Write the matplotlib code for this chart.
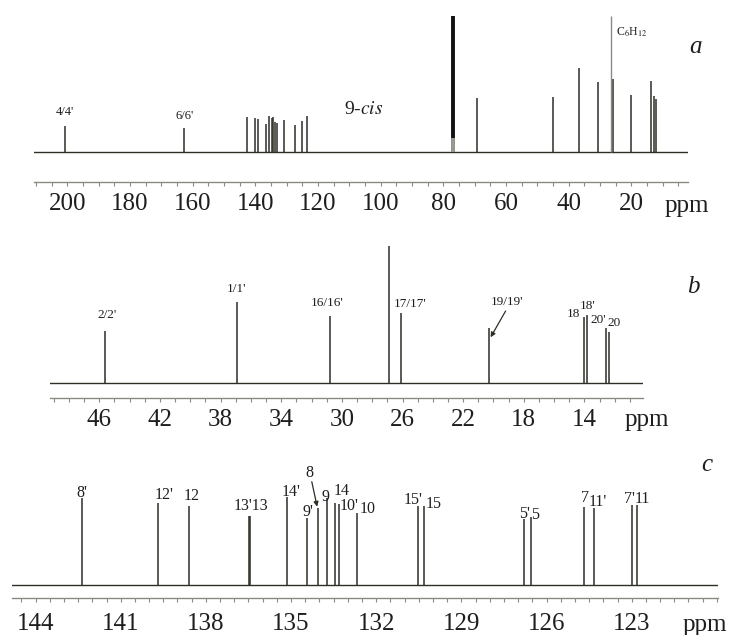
import matplotlib
matplotlib.use("Agg")
import matplotlib.pyplot as plt
from matplotlib.ticker import MultipleLocator

plt.rcParams['font.family'] = ['Liberation Serif', 'DejaVu Serif']
plt.rcParams['mathtext.fontset'] = 'stix'

LINE = '#2e2e26'
AXIS = '#8a8a80'
TEXT = '#1e1e1e'

# Panel a: full 13C spectrum (ppm, relative height)
a_shift = [200.7, 162.8, 142.7, 140.1, 139.1, 136.6, 135.6, 134.7, 134.4,
           133.7, 133.1, 130.8, 127.3, 125.1, 123.5, 69.1, 45.1, 36.7, 30.5,
           25.9, 20.1, 13.8, 12.6, 12.2]
a_height = [26, 24, 35, 34, 33, 28, 36, 34, 35, 30, 29, 32, 27, 31, 36,
            54, 55, 84, 70, 73, 57, 71, 56, 53]
a_cdcl3_shift = 76.9
a_cdcl3_height = 136
a_c6h12_shift = 26.6
a_c6h12_height = 136
a_labels = ["4/4'", "6/6'"]
a_ticks = [200, 180, 160, 140, 120, 100, 80, 60, 40, 20]

# Panel b: aliphatic region
b_shift = [45.6, 36.9, 30.8, 26.9, 26.1, 20.3, 14.03, 13.85, 12.6, 12.4]
b_height = [52, 81, 67, 137, 70, 55, 66, 68, 55, 51]
b_labels = ["2/2'", "1/1'", "16/16'", "17/17'", "19/19'", "18", "18'", "20'", "20"]
b_ticks = [46, 42, 38, 34, 30, 26, 22, 18, 14]

# Panel c: olefinic region
c_shift = [142.38, 139.70, 138.60, 136.49, 136.44, 135.13, 134.43, 134.04,
           133.72, 133.45, 133.31, 132.69, 130.52, 130.32, 126.79, 126.56,
           124.67, 124.32, 123.00, 122.82]
c_height = [87, 82, 79, 69, 69, 88, 67, 77, 87, 82, 81, 72, 79, 79, 66, 68,
            78, 77, 80, 80]
c_labels = ["8'", "12'", "12", "13'13", "14'", "9'", "8", "9", "14", "10'",
            "10", "15'", "15", "5'", "5", "7", "11'", "7'", "11"]
c_ticks = [144, 141, 138, 135, 132, 129, 126, 123]

W, H = 735, 635
fig = plt.figure(figsize=(W / 100, H / 100), dpi=100)


def px_rect(x0, x1, ytop, ybot):
    return [x0 / W, 1 - ybot / H, (x1 - x0) / W, (ybot - ytop) / H]


def draw_panel(rect, xlim, ylim, ticks, minor, pad):
    ax = fig.add_axes(rect)
    ax.axhline(0, color=LINE, lw=1.0, zorder=1)
    ax.set_xlim(xlim)
    ax.set_ylim(ylim)
    for side in ['top', 'left', 'right']:
        ax.spines[side].set_visible(False)
    ax.spines['bottom'].set_color(AXIS)
    ax.spines['bottom'].set_linewidth(1.0)
    ax.set_yticks([])
    ax.set_xticks(ticks)
    ax.set_xticklabels([str(t) for t in ticks])
    ax.xaxis.set_minor_locator(MultipleLocator(minor))
    ax.tick_params(axis='x', which='both', direction='out', length=3,
                   width=0.8, color=AXIS)
    ax.tick_params(axis='x', which='major', labelsize=18, labelcolor=TEXT, pad=pad)
    ax.patch.set_alpha(0)
    return ax


# ---- panel a
ax_a = draw_panel(px_rect(34, 688, 10, 182), (210.6, 1.9), (-30, 142), a_ticks, 5, 5)
ax_a.vlines(a_shift, 0, a_height, color=LINE, lw=1.1)
ax_a.vlines(a_cdcl3_shift, 0, a_cdcl3_height, color='#111111', lw=2.8)
ax_a.vlines(a_cdcl3_shift, 0, 14, color='#9a9a90', lw=2.8)
ax_a.vlines(a_c6h12_shift, 0, a_c6h12_height, color='#8a8a84', lw=1.0)

a_label_pos = [(200.7, 40.3), (162.4, 36)]
for txt, (x, y) in zip(a_labels, a_label_pos):
    ax_a.text(x, y, txt, ha='center', va='center', fontsize=9, color=TEXT)
ax_a.text(105.3, 42, r"9-$\mathit{cis}$", ha='center', va='center',
          fontsize=14, color=TEXT)
ax_a.text(24.9, 119.3, r"C$_6$H$_{12}$", ha='left', va='center',
          fontsize=8.5, color=TEXT)

# ---- panel b
ax_b = draw_panel(px_rect(50, 643, 240, 398), (49.25, 10.14), (-14.7, 143.3), b_ticks, 1, 5)
ax_b.vlines(b_shift, 0, b_height, color=LINE, lw=1.1)

b_label_pos = [(45.5, 68.3), (36.94, 94), (31.0, 80.6), (25.5, 79.3),
               (19.13, 81.6), (14.74, 69.3), (13.81, 77.3), (13.09, 63.3),
               (12.05, 60.6)]
for txt, (x, y) in zip(b_labels, b_label_pos):
    ax_b.text(x, y, txt, ha='center', va='center', fontsize=9.5, color=TEXT)
ax_b.annotate('', xy=(20.19, 46), xytext=(19.2, 72.3),
              arrowprops=dict(arrowstyle='-|>', color=LINE, lw=0.9,
                              mutation_scale=7, shrinkA=0, shrinkB=0))

# ---- panel c
ax_c = draw_panel(px_rect(12, 718, 460, 598), (144.83, 119.96), (-13.5, 124.5), c_ticks, 0.5, 8)
ax_c.vlines(c_shift, 0, c_height, color=LINE, lw=1.1)

c_label_pos = [(142.38, 91.8), (139.48, 89.5), (138.50, 88.8), (136.42, 78.5),
               (135.0, 92.8), (134.39, 72.8), (134.36, 111.2), (133.77, 87.5),
               (133.22, 93.5), (132.95, 78.0), (132.31, 75.5), (130.69, 84.5),
               (129.96, 80.5), (126.76, 70.5), (126.40, 69.5), (124.64, 86.2),
               (124.18, 82.8), (123.08, 85.5), (122.61, 85.5)]
for txt, (x, y) in zip(c_labels, c_label_pos):
    ax_c.text(x, y, txt, ha='center', va='center', fontsize=11.5, color=TEXT)
ax_c.annotate('', xy=(134.08, 77.8), xytext=(134.27, 102.8),
              arrowprops=dict(arrowstyle='-|>', color=LINE, lw=0.9,
                              mutation_scale=7, shrinkA=0, shrinkB=0))

# panel letters and ppm units
for letter, (x, y) in zip(['a', 'b', 'c'], [(695, 47), (693, 287), (707, 465)]):
    fig.text(x / W, 1 - y / H, letter, ha='center', va='center',
             fontsize=18, style='italic', color=TEXT)
for x, y in [(665, 206), (625, 420), (683, 625)]:
    fig.text(x / W, 1 - y / H, 'ppm', ha='left', va='center',
             fontsize=18, color=TEXT)

fig.savefig('out.png', dpi=100)
